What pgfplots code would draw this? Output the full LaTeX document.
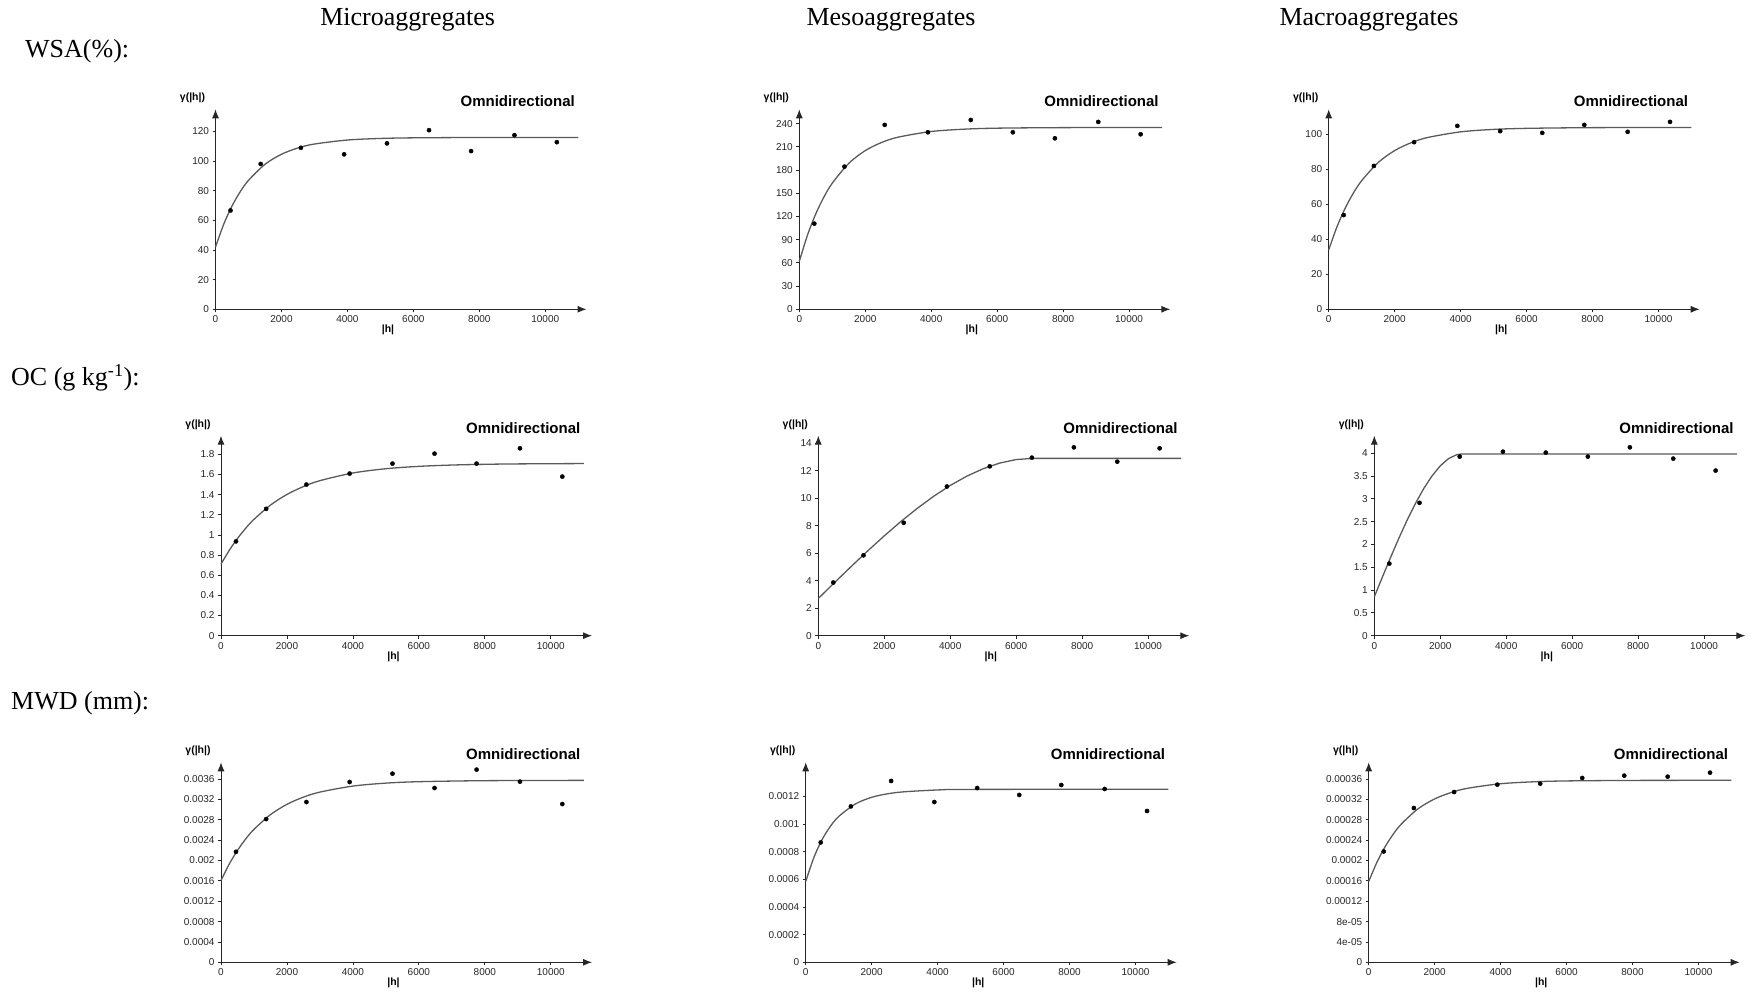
\documentclass[border=0pt]{standalone}
\usepackage{fontspec}
\setmainfont{Liberation Serif}
\newfontfamily\arial{Liberation Sans}
\usepackage{pgfplots}
\pgfplotsset{compat=1.18}
\usetikzlibrary{arrows.meta}
\definecolor{curve}{HTML}{5A5A5A}
\pgfplotsset{vario/.style={
  width=371pt, height=200pt, scale only axis,
  xmin=0, xmax=11250, ymin=0,
  scaled x ticks=false, scaled y ticks=false,
  /pgf/number format/assume math mode=true,
  /pgf/number format/1000 sep={},
  axis x line=bottom, axis y line=left,
  axis line style={line width=1pt, color=black!85, -{Latex[length=9pt,width=7pt]}},
  xtick={0,2000,4000,6000,8000,10000},
  xticklabels={0,2000,4000,6000,8000,10000},
  tick style={black!85, line width=0.8pt},
  major tick length=3pt, tick align=outside,
  ticklabel style={font=\arial\fontsize{10}{12}\selectfont, text=black!85},
  anchor=south west, clip=false,
},
curvestyle/.style={curve, line width=1.3pt},
ptstyle/.style={only marks, mark=*, mark size=2.1pt, black},
}
\newcommand{\panellabels}{%
  \node[anchor=east, font=\arial\bfseries\fontsize{15}{17}\selectfont] at (axis description cs:0.978,1.04) {Omnidirectional};
  \node[font=\arial\bfseries\fontsize{10.5}{12}\selectfont] at (axis description cs:-0.062,1.055) {γ(|h|)};
  \node[font=\arial\bfseries\fontsize{10.5}{12}\selectfont] at (axis description cs:0.465,-0.105) {|h|};
}
\begin{document}
\begin{tikzpicture}
\useasboundingbox (0pt,0pt) rectangle (1751pt,996pt);
% titles
\node[font=\fontsize{26}{30}\selectfont] at (407.6pt,976pt) {Microaggregates};
\node[font=\fontsize{26}{30}\selectfont] at (891pt,976pt) {Mesoaggregates};
\node[font=\fontsize{26}{30}\selectfont] at (1369pt,976pt) {Macroaggregates};
\node[anchor=west, font=\fontsize{26}{30}\selectfont, inner sep=0pt] at (25pt,944.4pt) {WSA(\%):};
\node[anchor=west, font=\fontsize{26}{30}\selectfont, inner sep=0pt] at (11pt,618.5pt) {OC (g kg\textsuperscript{-1}):};
\node[anchor=west, font=\fontsize{26}{30}\selectfont, inner sep=0pt] at (11pt,292.5pt) {MWD (mm):};

% ---------- Row 1: WSA ----------
\begin{axis}[vario, at={(215.5pt,686.7pt)}, ymax=135,
  ytick={0,20,40,60,80,100,120},
  yticklabels={0,20,40,60,80,100,120}]
\addplot[curvestyle, smooth] coordinates {(0,42) (250,57.46) (500,69.68) (750,79.36) (1000,87.01) (1500,97.86) (2000,104.64) (2500,108.9) (3000,111.55) (4000,114.26) (5000,115.32) (6000,115.73) (8000,115.96) (11000,116.0)};
\addplot[ptstyle] coordinates {(455,66.7) (1370,98.1) (2590,109) (3900,104.6) (5200,112) (6475,120.9) (7750,106.8) (9065,117.5) (10350,112.8)};
\panellabels
\end{axis}

\begin{axis}[vario, at={(799.3pt,686.7pt)}, ymax=258.5,
  ytick={0,30,60,90,120,150,180,210,240},
  yticklabels={0,30,60,90,120,150,180,210,240}]
\addplot[curvestyle, smooth] coordinates {(0,62) (250,96.06) (500,123.4) (750,145.4) (1000,163.0) (1500,188.6) (2000,205.1) (2500,215.7) (3000,222.5) (4000,229.8) (5000,232.8) (6000,234.1) (8000,234.8) (11000,235.0)};
\addplot[ptstyle] coordinates {(455,110.7) (1370,184.4) (2590,238.3) (3900,228.8) (5200,244.7) (6475,228.8) (7750,221) (9065,242.2) (10350,226.2)};
\panellabels
\end{axis}

\begin{axis}[vario, at={(1328.7pt,686.7pt)}, ymax=114.4,
  ytick={0,20,40,60,80,100},
  yticklabels={0,20,40,60,80,100}]
\addplot[curvestyle, smooth] coordinates {(0,34) (250,47.17) (500,57.86) (750,66.53) (1000,73.58) (1500,83.95) (2000,90.78) (2500,95.28) (3000,98.26) (4000,101.5) (5000,102.9) (6000,103.5) (8000,103.9) (11000,104.0)};
\addplot[ptstyle] coordinates {(455,53.9) (1370,82.0) (2590,95.6) (3900,104.9) (5200,101.9) (6475,100.9) (7750,105.5) (9065,101.5) (10350,107.2)};
\panellabels
\end{axis}

% ---------- Row 2: OC ----------
\begin{axis}[vario, at={(221pt,360.3pt)}, ymax=1.985,
  ytick={0,0.2,0.4,0.6,0.8,1,1.2,1.4,1.6,1.8},
  yticklabels={0,0.2,0.4,0.6,0.8,1,1.2,1.4,1.6,1.8}]
\addplot[curvestyle, smooth] coordinates {(0,0.71) (250,0.8468) (500,0.9648) (750,1.0667) (1000,1.1547) (1500,1.2962) (2000,1.4017) (2500,1.4802) (3000,1.5388) (4000,1.6149) (5000,1.6572) (6000,1.6807) (7000,1.6937) (8000,1.701) (9000,1.705) (11000,1.7085)};
\addplot[ptstyle] coordinates {(455,0.936) (1370,1.259) (2590,1.500) (3900,1.609) (5200,1.708) (6475,1.807) (7750,1.708) (9065,1.860) (10350,1.579)};
\panellabels
\end{axis}

\begin{axis}[vario, at={(818.3pt,360.3pt)}, ymax=14.56,
  ytick={0,2,4,6,8,10,12,14},
  yticklabels={0,2,4,6,8,10,12,14}]
\addplot[curvestyle] coordinates {(0,2.71) (500,3.885) (1000,5.045) (1500,6.178) (2000,7.269) (2500,8.304) (3000,9.270) (3500,10.152) (4000,10.937) (4500,11.61) (5000,12.158) (5500,12.566) (6000,12.822) (6500,12.91) (11000,12.91)};
\addplot[ptstyle] coordinates {(455,3.87) (1370,5.85) (2590,8.22) (3900,10.86) (5200,12.33) (6475,12.96) (7750,13.71) (9065,12.67) (10350,13.64)};
\panellabels
\end{axis}

\begin{axis}[vario, at={(1374.3pt,360.3pt)}, ymax=4.386,
  ytick={0,0.5,1,1.5,2,2.5,3,3.5,4},
  yticklabels={0,0.5,1,1.5,2,2.5,3,3.5,4}]
\addplot[curvestyle] coordinates {(0,0.852) (250,1.294) (500,1.728) (750,2.1465) (1000,2.541) (1250,2.904) (1500,3.228) (1750,3.504) (2000,3.725) (2250,3.883) (2500,3.970) (2650,3.985) (11000,3.985)};
\addplot[ptstyle] coordinates {(455,1.581) (1370,2.914) (2590,3.927) (3900,4.036) (5200,4.015) (6475,3.927) (7750,4.131) (9065,3.883) (10350,3.621)};
\panellabels
\end{axis}

% ---------- Row 3: MWD ----------
\begin{axis}[vario, at={(221pt,33.7pt)}, ymax=0.003928,
  ytick={0,0.0004,0.0008,0.0012,0.0016,0.002,0.0024,0.0028,0.0032,0.0036},
  yticklabels={0,0.0004,0.0008,0.0012,0.0016,0.002,0.0024,0.0028,0.0032,0.0036}]
\addplot[curvestyle, smooth] coordinates {(0,0.001607) (250,0.001929) (500,0.002198) (750,0.002423) (1000,0.002611) (1500,0.002900) (2000,0.003103) (2500,0.003244) (3000,0.003343) (4000,0.003461) (5000,0.003519) (6000,0.003547) (8000,0.003567) (11000,0.003573)};
\addplot[ptstyle] coordinates {(455,0.00217) (1370,0.002813) (2590,0.003148) (3900,0.003541) (5200,0.003705) (6475,0.003423) (7750,0.003784) (9065,0.003548) (10350,0.003108)};
\panellabels
\end{axis}

\begin{axis}[vario, at={(805.7pt,33.7pt)}, ymax=0.001446,
  ytick={0,0.0002,0.0004,0.0006,0.0008,0.001,0.0012},
  yticklabels={0,0.0002,0.0004,0.0006,0.0008,0.001,0.0012}]
\addplot[curvestyle, smooth] coordinates {(0,0.000584) (250,0.0007593) (500,0.0008885) (750,0.0009837) (1000,0.001054) (1500,0.001144) (2000,0.001193) (2500,0.001219) (3000,0.001233) (4000,0.001246) (5000,0.001250) (11000,0.001251)};
\addplot[ptstyle] coordinates {(455,0.0008667) (1370,0.001127) (2590,0.001311) (3900,0.001159) (5200,0.001260) (6475,0.001210) (7750,0.001282) (9065,0.001253) (10350,0.001094)};
\panellabels
\end{axis}

\begin{axis}[vario, at={(1368.7pt,33.7pt)}, ymax=0.0003928,
  ytick={0,0.00004,0.00008,0.00012,0.00016,0.0002,0.00024,0.00028,0.00032,0.00036},
  yticklabels={0,4e-05,8e-05,0.00012,0.00016,0.0002,0.00024,0.00028,0.00032,0.00036}]
\addplot[curvestyle, smooth] coordinates {(0,0.0001587) (250,0.0001966) (500,0.0002273) (750,0.0002522) (1000,0.0002723) (1500,0.0003017) (2000,0.0003209) (2500,0.0003335) (3000,0.0003418) (4000,0.0003507) (5000,0.0003545) (6000,0.0003562) (8000,0.0003572) (11000,0.0003574)};
\addplot[ptstyle] coordinates {(455,0.0002177) (1370,0.000303) (2590,0.0003344) (3900,0.0003489) (5200,0.0003508) (6475,0.000362) (7750,0.0003666) (9065,0.0003646) (10350,0.0003725)};
\panellabels
\end{axis}
\end{tikzpicture}
\end{document}
